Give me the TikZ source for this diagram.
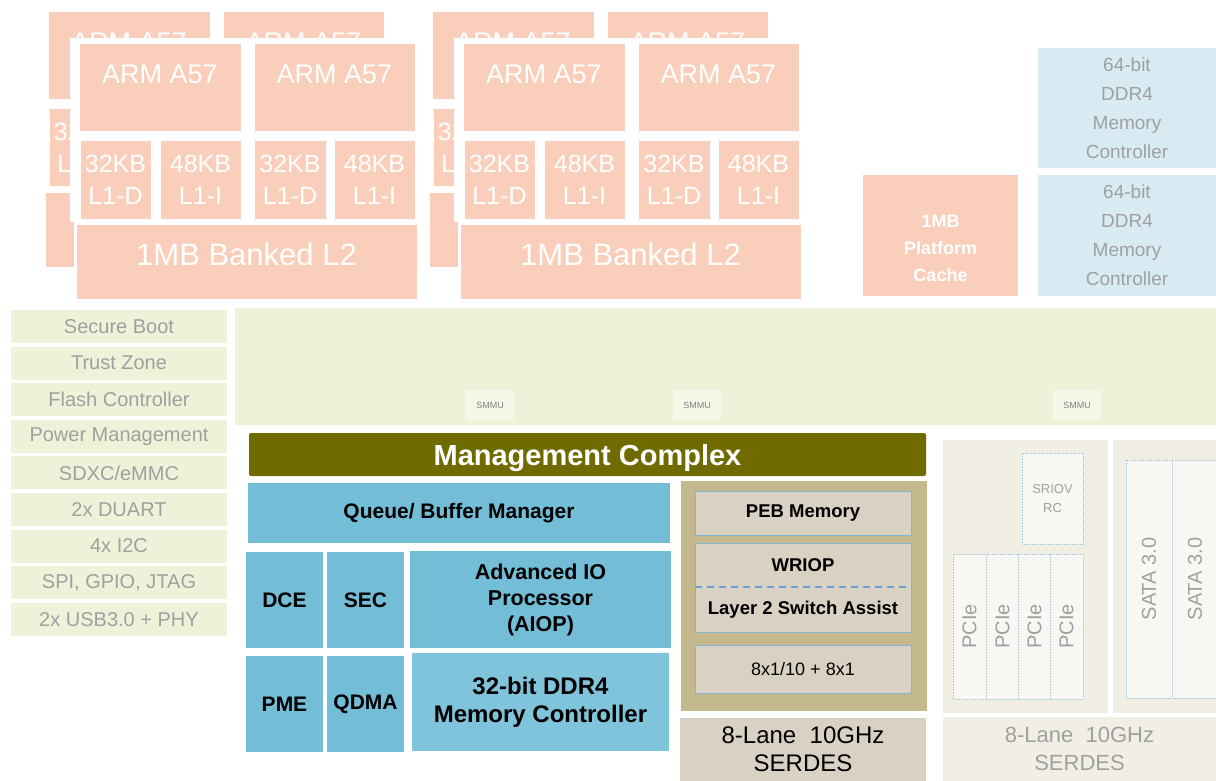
\documentclass[tikz,border=0pt]{standalone}
\usepackage{fontspec}
\setmainfont{Liberation Sans}
\usetikzlibrary{positioning}

\definecolor{coreorange}{RGB}{249,206,186}
\definecolor{fadegreen}{RGB}{238,242,216}
\definecolor{fadeblue}{RGB}{216,235,243}
\definecolor{fadetan}{RGB}{241,238,227}
\definecolor{fadelight}{RGB}{248,247,243}
\definecolor{fadetext}{RGB}{160,160,160}
\definecolor{olive}{RGB}{112,107,0}
\definecolor{qblue}{RGB}{115,189,214}
\definecolor{qbluelt}{RGB}{127,196,218}
\definecolor{khaki}{RGB}{196,185,141}
\definecolor{sand}{RGB}{217,210,196}
\definecolor{edgeblue}{RGB}{135,180,208}
\definecolor{dashblue}{RGB}{100,160,215}

\tikzset{
  box/.style={rectangle, inner sep=0pt, outer sep=0pt, anchor=north west, align=center},
  core/.style={box, fill=coreorange, draw=white, line width=3pt, text=white},
  arm/.style={core, font=\fontsize{27}{30}\selectfont, text height=19pt, text depth=27pt},
  lone/.style={core, font=\fontsize{25}{32}\selectfont},
  ltwo/.style={core, font=\fontsize{31}{34}\selectfont, text height=23pt, text depth=16pt},
  pcache/.style={box, fill=coreorange, text=white, font=\bfseries\fontsize{18}{27}\selectfont},
  ddrfade/.style={box, fill=fadeblue, text=fadetext, font=\fontsize{19}{29}\selectfont},
  sidebox/.style={box, fill=fadegreen, text=fadetext, font=\fontsize{20}{22}\selectfont},
  smmu/.style={box, anchor=center, fill=fadegreen!60, text=fadetext!80!black, font=\fontsize{9}{10}\selectfont},
  mgmt/.style={box, fill=olive, rounded corners=2pt, text=white, font=\bfseries\fontsize{29}{30}\selectfont},
  engine/.style={box, fill=qblue, text=black, font=\bfseries\fontsize{21}{26}\selectfont},
  netbox/.style={box, fill=sand, draw=edgeblue, line width=1pt, text=black, font=\fontsize{18}{20}\selectfont},
  fadebox/.style={box, fill=fadetan, text=fadetext, font=\fontsize{22}{28}\selectfont},
  fadeinner/.style={box, fill=fadelight, draw=edgeblue!70, densely dotted, line width=0.6pt, text=fadetext, font=\fontsize{20}{22}\selectfont}
}

\begin{document}
\begin{tikzpicture}[x=1pt,y=-1pt]
\useasboundingbox (0,0) rectangle (1216,781);

% two A57 clusters, each drawn as a shadow copy and then the front copy
\foreach \cx/\cn in {0/a,384/b}{
  \foreach \dx/\dy/\ly in {-31/-32/bk,0/0/fr}{
    \begin{scope}[shift={(\cx+\dx,\dy)}]
      \fill[white] (70,38) rectangle (421,222);
      \node[arm, minimum width=164pt, minimum height=90pt] (arm\cn\ly1) at (78,43) {ARM A57};
      \node[arm, minimum width=163pt, minimum height=90pt] (arm\cn\ly2) at (253,43) {ARM A57};
      \node[lone, minimum width=73pt, minimum height=80pt] (l1d\cn\ly1) at (79,140) {32KB\\L1-D};
      \node[lone, minimum width=83pt, minimum height=80pt] (l1i\cn\ly1) at (159,140) {48KB\\L1-I};
      \node[lone, minimum width=74pt, minimum height=80pt] (l1d\cn\ly2) at (253,140) {32KB\\L1-D};
      \node[lone, minimum width=83pt, minimum height=80pt] (l1i\cn\ly2) at (333,140) {48KB\\L1-I};
      \node[ltwo, minimum width=343pt, minimum height=77pt] (l2\cn\ly) at (75,223) {1MB Banked L2};
    \end{scope}
  }
}

\node[pcache, minimum width=155pt, minimum height=121pt, text height=92pt, text depth=0pt] (pcache) at (863,175) {1MB\\Platform\\Cache};
\node[ddrfade, minimum width=178pt, minimum height=120pt] (ddr_1) at (1038,48) {64-bit\\DDR4\\Memory\\Controller};
\node[ddrfade, minimum width=178pt, minimum height=121pt] (ddr_2) at (1038,175) {64-bit\\DDR4\\Memory\\Controller};

% peripherals on the left
\foreach \t [count=\i] in {Secure Boot, Trust Zone, Flash Controller, Power Management, SDXC/eMMC, 2x DUART, 4x I2C, {SPI, GPIO, JTAG}, 2x USB3.0 + PHY}
  \node[sidebox, minimum width=216pt, minimum height=33pt] (side\i) at (11,{310+36.6*(\i-1)}) {\t};

% interconnect
\node[box, fill=fadegreen, minimum width=981pt, minimum height=117pt] (ccn) at (235,308) {};
\node[smmu, minimum width=48pt, minimum height=30pt] (smmu_1) at (490,405) {SMMU};
\node[smmu, minimum width=48pt, minimum height=30pt] (smmu_2) at (697,405) {SMMU};
\node[smmu, minimum width=48pt, minimum height=30pt] (smmu_3) at (1077,405) {SMMU};

% management complex
\node[mgmt, minimum width=677pt, minimum height=43pt, text height=21pt, text depth=0pt] (mc) at (249,433) {Management Complex};
\node[engine, minimum width=422pt, minimum height=60pt] (qbm) at (248,483) {Queue/ Buffer Manager};
\node[engine, minimum width=77pt, minimum height=96pt] (dce) at (246,552) {DCE};
\node[engine, minimum width=77pt, minimum height=96pt] (sec) at (327,552) {SEC};
\node[engine, minimum width=261pt, minimum height=97pt, font=\bfseries\fontsize{21.5}{26}\selectfont] (aiop) at (410,551) {Advanced IO\\Processor\\(AIOP)};
\node[engine, minimum width=77pt, minimum height=96pt] (pme) at (246,656) {PME};
\node[engine, minimum width=77pt, minimum height=96pt] (qdma) at (327,656) {QDMA};
\node[engine, fill=qbluelt, minimum width=257pt, minimum height=98pt, font=\bfseries\fontsize{24}{28}\selectfont] (ddr32) at (412,653) {32-bit DDR4\\Memory Controller};

% network side
\node[box, fill=khaki, minimum width=246pt, minimum height=230pt] (net) at (681,481) {};
\node[netbox, minimum width=216pt, minimum height=44pt, font=\bfseries\fontsize{18.5}{20}\selectfont] (peb) at (695,491) {PEB Memory};
\node[netbox, draw=none, minimum width=216pt, minimum height=44pt, font=\bfseries\fontsize{18.5}{20}\selectfont] (wriop) at (695,543) {WRIOP};
\node[netbox, draw=none, minimum width=216pt, minimum height=45pt, font=\bfseries\fontsize{18.5}{20}\selectfont] (l2sa) at (695,587) {Layer 2 Switch Assist};
\draw[edgeblue, line width=1pt] (wriop.north west) rectangle (l2sa.south east);
\draw[dashblue, dash pattern=on 7pt off 5pt, line width=2pt] (wriop.south west) -- (wriop.south east);
\node[netbox, minimum width=216pt, minimum height=48pt] (ports) at (695,645) {8x1/10 + 8x1};
\node[netbox, draw=none, minimum width=246pt, minimum height=63pt, font=\fontsize{24}{28}\selectfont] (serdes) at (680,718) {8-Lane\ \ 10GHz\\SERDES};

% faded right side
\node[fadebox, minimum width=165pt, minimum height=273pt] (pcie) at (943,440) {};
\node[fadebox, minimum width=103pt, minimum height=273pt] (sata) at (1113,440) {};
\node[fadeinner, minimum width=61pt, minimum height=91pt, font=\fontsize{13}{19}\selectfont] (sriov) at (1022,453) {SRIOV\\RC};
\foreach \x [count=\i] in {953,986,1018,1050}
  \node[fadeinner, minimum width=33pt, minimum height=145pt] (pcie\i) at (\x,554) {\rotatebox{90}{PCIe}};
\node[fadeinner, minimum width=46pt, minimum height=238pt] (sata1) at (1126,460) {\rotatebox{90}{SATA 3.0}};
\node[fadeinner, minimum width=46pt, minimum height=238pt] (sata2) at (1172,460) {\rotatebox{90}{SATA 3.0}};
\node[fadebox, minimum width=273pt, minimum height=64pt] (serdes_2) at (943,717) {8-Lane\ \ 10GHz\\SERDES};
\end{tikzpicture}
\end{document}
